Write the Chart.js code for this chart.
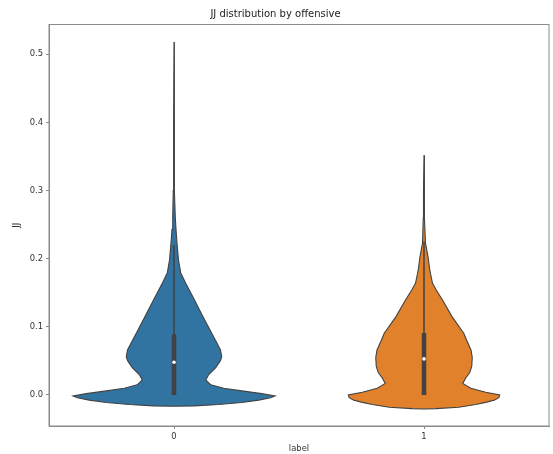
<!DOCTYPE html>
<html>
<head>
<meta charset="utf-8">
<script src="https://cdn.jsdelivr.net/npm/chart.js@4.4.1/dist/chart.umd.min.js"></script>
<style>
  html, body { margin: 0; padding: 0; background: #fff; }
  #wrap { width: 553px; height: 454px; }
</style>
</head>
<body>
<div id="wrap"><canvas id="violinChart"></canvas></div>
<script>
// categories on the x axis
const categories = ['0', '1'];

// kernel density outline of JJ per category: levels and half widths (category units)
const levels0 = [-0.0165, -0.016, -0.014, -0.011, -0.0075, -0.004, -0.0015, 0.002, 0.006, 0.01, 0.015, 0.022, 0.03, 0.04, 0.05, 0.056, 0.066, 0.078, 0.0906, 0.115, 0.1395, 0.164, 0.179, 0.198, 0.223, 0.243, 0.262, 0.3, 0.4, 0.518];
const widths0 = [0, 0.080, 0.179, 0.271, 0.339, 0.386, 0.404, 0.351, 0.271, 0.199, 0.147, 0.127, 0.139, 0.167, 0.185, 0.191, 0.186, 0.169, 0.151, 0.116, 0.082, 0.047, 0.027, 0.018, 0.012, 0.008, 0.005, 0.003, 0.0016, 0];

const levels1 = [-0.0205, -0.02, -0.018, -0.014, -0.0105, -0.0073, -0.004, 0.0, 0.004, 0.0098, 0.017, 0.025, 0.033, 0.042, 0.055, 0.066, 0.08, 0.0906, 0.115, 0.1395, 0.154, 0.164, 0.1835, 0.203, 0.213, 0.223, 0.26, 0.3, 0.352];
const widths1 = [0, 0.048, 0.139, 0.207, 0.251, 0.283, 0.299, 0.303, 0.247, 0.187, 0.155, 0.167, 0.183, 0.191, 0.193, 0.188, 0.171, 0.159, 0.112, 0.074, 0.049, 0.034, 0.023, 0.016, 0.011, 0.006, 0.003, 0.002, 0];

// inner box summary per category
const q1 = [0.0, 0.0];
const medians = [0.048, 0.053];
const q3 = [0.089, 0.091];
const whiskerLow = [0.0, 0.0];
const whiskerHigh = [0.22, 0.225];

const yTicks = [0.0, 0.1, 0.2, 0.3, 0.4, 0.5];

const fillColors = ['#3274a1', '#e1812c'];
const edgeColor = '#424242';
const fontFamily = 'DejaVu Sans';

function outline(center, levels, widths) {
  const pts = [];
  for (let i = 0; i < levels.length; i++) pts.push({ x: center - widths[i], y: levels[i] });
  for (let i = levels.length - 1; i >= 0; i--) pts.push({ x: center + widths[i], y: levels[i] });
  pts.push(pts[0]);
  return pts;
}

const shapes = [outline(0, levels0, widths0), outline(1, levels1, widths1)];

const datasets = [];
shapes.forEach((pts, i) => {
  datasets.push({
    data: pts, showLine: true, fill: 'shape', tension: 0,
    backgroundColor: fillColors[i], borderColor: edgeColor, borderWidth: 1.1,
    pointRadius: 0, order: 3
  });
  datasets.push({
    data: [{ x: i, y: whiskerLow[i] }, { x: i, y: whiskerHigh[i] }],
    showLine: true, borderColor: edgeColor, borderWidth: 1.5, pointRadius: 0, order: 2
  });
  datasets.push({
    data: [{ x: i, y: q1[i] }, { x: i, y: q3[i] }],
    showLine: true, borderColor: edgeColor, borderWidth: 4.5, borderCapStyle: 'butt',
    pointRadius: 0, order: 1
  });
  datasets.push({
    data: [{ x: i, y: medians[i] }],
    showLine: false, pointRadius: 1.8, pointBackgroundColor: '#ffffff', pointBorderWidth: 0, order: 0
  });
});

// matplotlib style box around the plot area
const frame = {
  id: 'frame',
  afterDraw(chart) {
    const { ctx, chartArea: a } = chart;
    ctx.save();
    ctx.strokeStyle = '#8a8a8a';
    ctx.lineWidth = 1;
    ctx.strokeRect(a.left, a.top, a.right - a.left, a.bottom - a.top);
    ctx.restore();
  }
};

new Chart(document.getElementById('violinChart'), {
  type: 'scatter',
  data: { datasets: datasets },
  options: {
    responsive: true,
    maintainAspectRatio: false,
    animation: false,
    layout: { padding: { top: 0, right: 2, left: 0, bottom: 0 } },
    plugins: {
      legend: { display: false },
      tooltip: { enabled: false },
      title: {
        display: true,
        text: 'JJ distribution by offensive',
        color: '#222',
        font: { family: fontFamily, size: 10, weight: 'normal' },
        padding: { top: 8, bottom: 4.5 }
      }
    },
    scales: {
      x: {
        type: 'linear',
        min: -0.5,
        max: 1.5,
        afterBuildTicks(scale) { scale.ticks = categories.map((c, i) => ({ value: i })); },
        afterFit(scale) { scale.height = 28; },
        ticks: {
          color: '#333',
          font: { family: fontFamily, size: 8.4 },
          padding: 3,
          callback: (v) => categories[v]
        },
        grid: { drawOnChartArea: false, drawTicks: true, tickLength: 3, color: '#8a8a8a' },
        border: { display: true, color: '#8a8a8a' },
        title: {
          display: true, text: 'label', color: '#333',
          font: { family: fontFamily, size: 8.4 },
          padding: { top: 0, bottom: 0 }
        }
      },
      y: {
        min: -0.0455,
        max: 0.5437,
        afterBuildTicks(scale) { scale.ticks = yTicks.map((v) => ({ value: v })); },
        afterFit(scale) { scale.width = 49; },
        ticks: {
          color: '#333',
          font: { family: fontFamily, size: 8.4 },
          padding: 3,
          callback: (v) => v.toFixed(1)
        },
        grid: { drawOnChartArea: false, drawTicks: true, tickLength: 3, color: '#8a8a8a' },
        border: { display: true, color: '#8a8a8a' },
        title: {
          display: true, text: 'JJ', color: '#333',
          font: { family: fontFamily, size: 8.4 },
          padding: { top: 12, bottom: 0 }
        }
      }
    }
  },
  plugins: [frame]
});
</script>
</body>
</html>
